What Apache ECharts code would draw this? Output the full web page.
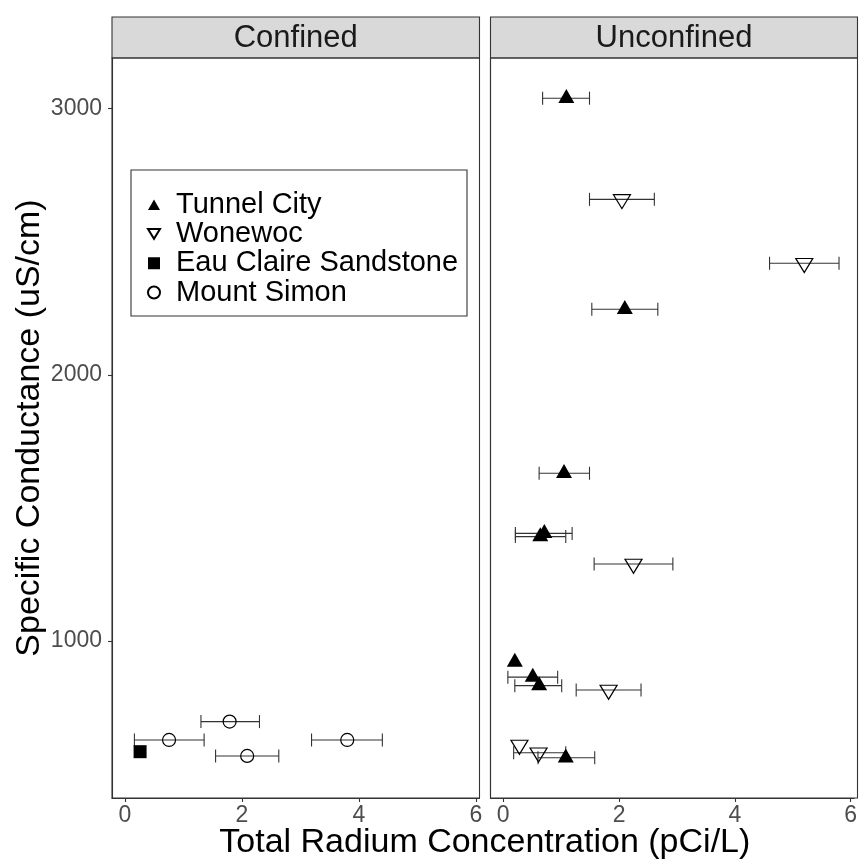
<!DOCTYPE html>
<html>
<head>
<meta charset="utf-8">
<script src="https://cdn.jsdelivr.net/npm/echarts@6/dist/echarts.min.js"></script>
<style>html,body{margin:0;padding:0;background:#fff}#c{width:860px;height:863px}</style>
</head>
<body>
<div id="c"></div>
<script>
// ---------- DATA ----------
const panels = ['Confined', 'Unconfined'];
const xTicks = [0, 2, 4, 6];
const yTicks = [1000, 2000, 3000];

// Confined panel
const msX  = [1.79, 0.755, 3.80, 2.09];
const msY  = [697, 628, 628, 568];
const msLo = [1.30, 0.163, 3.19, 1.55];
const msHi = [2.30, 1.354, 4.40, 2.63];

const ecX = [0.26];
const ecY = [584];

// Unconfined panel
const tcX  = [1.09, 2.10, 1.05, 0.64, 0.71, 0.20, 0.51, 0.62, 1.08];
const tcY  = [3039, 2246, 1630, 1392, 1404, 921, 864, 832, 561];
const tcLo = [0.68, 1.53, 0.62, 0.21, 0.21, null, 0.08, 0.20, 0.60];
const tcHi = [1.49, 2.67, 1.49, 1.08, 1.19, null, 0.94, 1.01, 1.58];

const wwX  = [2.05, 5.20, 2.25, 1.82, 0.28, 0.61];
const wwY  = [2659, 2419, 1289, 816, 609, 580];
const wwLo = [1.49, 4.60, 1.57, 1.26, null, 0.18];
const wwHi = [2.61, 5.80, 2.93, 2.38, null, 1.08];

// ---------- BUILD ----------
const FONT = '"Liberation Sans", Arial, Helvetica, sans-serif';
const pts = (xs, ys) => xs.map((x, i) => [x, ys[i]]);
const bars = (los, his, ys) => los.map((l, i) => [l, his[i], ys[i]]).filter(r => r[0] != null && r[1] != null);

const UP = 'path://M0,14 L8,0 L16,14 Z';
const DOWN = 'path://M0,0 L17,0 L8.5,14 Z';

const gridTop = 58, gridH = 740;
const grids = [
  {left: 112, top: gridTop, width: 367.5, height: gridH},
  {left: 490.5, top: gridTop, width: 367, height: gridH}
];

function errSeries(data, gi) {
  return {
    type: 'custom', xAxisIndex: gi, yAxisIndex: gi, z: 1, silent: true,
    data: data, encode: {x: [0, 1], y: 2},
    renderItem: function (params, api) {
      const a = api.coord([api.value(0), api.value(2)]);
      const b = api.coord([api.value(1), api.value(2)]);
      const h = 6.5;
      const st = {stroke: '#333', lineWidth: 1.1};
      return {type: 'group', children: [
        {type: 'line', shape: {x1: a[0], y1: a[1], x2: b[0], y2: b[1]}, style: st},
        {type: 'line', shape: {x1: a[0], y1: a[1] - h, x2: a[0], y2: a[1] + h}, style: st},
        {type: 'line', shape: {x1: b[0], y1: b[1] - h, x2: b[0], y2: b[1] + h}, style: st}
      ]};
    }
  };
}

const styleTC = {symbol: UP, symbolSize: [16, 14], symbolOffset: [0, -2.3], itemStyle: {color: '#000', opacity: 1}};
const styleWW = {symbol: DOWN, symbolSize: [17, 14], symbolOffset: [0, 2.3], itemStyle: {color: 'rgba(0,0,0,0)', borderColor: '#000', borderWidth: 1.2, opacity: 1}};
const styleEC = {symbol: 'rect', symbolSize: 13, itemStyle: {color: '#000', opacity: 1}};
const styleMS = {symbol: 'circle', symbolSize: 13, itemStyle: {color: 'rgba(0,0,0,0)', borderColor: '#000', borderWidth: 1.2, opacity: 1}};

function sc(name, data, gi, st) {
  return Object.assign({type: 'scatter', name: name, xAxisIndex: gi, yAxisIndex: gi, z: 3, data: data}, st);
}

const series = [
  errSeries(bars(msLo, msHi, msY), 0),
  errSeries(bars(tcLo, tcHi, tcY), 1),
  errSeries(bars(wwLo, wwHi, wwY), 1),
  sc('Tunnel City', pts(tcX, tcY), 1, styleTC),
  sc('Wonewoc', pts(wwX, wwY), 1, styleWW),
  sc('Eau Claire Sandstone', pts(ecX, ecY), 0, styleEC),
  sc('Mount Simon', pts(msX, msY), 0, styleMS)
];

function xAxis(gi) {
  return {
    type: 'value', gridIndex: gi, min: -0.22, max: 6.06, position: 'bottom',
    splitLine: {show: false},
    axisLine: {show: true, onZero: false, lineStyle: {color: '#333', width: 1.1}},
    axisTick: {show: true, inside: false, customValues: xTicks, length: 4, lineStyle: {color: '#333', width: 1.1}},
    axisLabel: {show: true, customValues: xTicks, margin: 6, color: '#4d4d4d', fontSize: 23, fontFamily: FONT,
      formatter: v => String(v)}
  };
}
function yAxis(gi) {
  return {
    type: 'value', gridIndex: gi, min: 410, max: 3190, position: 'left',
    splitLine: {show: false},
    axisLine: {show: true, onZero: false, lineStyle: {color: '#333', width: 1.1}},
    axisTick: {show: gi === 0, inside: false, customValues: yTicks, length: 4, lineStyle: {color: '#333', width: 1.1}},
    axisLabel: {show: gi === 0, customValues: yTicks, margin: 10, color: '#4d4d4d', fontSize: 23, fontFamily: FONT,
      formatter: v => String(v)}
  };
}

const graphics = [];
grids.forEach((g, i) => {
  graphics.push({type: 'rect', z: 0, shape: {x: g.left, y: 17, width: g.width, height: gridTop - 17},
    style: {fill: '#d9d9d9', stroke: '#333', lineWidth: 1.1}});
  graphics.push({type: 'text', z: 1, x: g.left + g.width / 2, y: 38,
    style: {text: panels[i], textAlign: 'center', textVerticalAlign: 'middle', fill: '#1a1a1a', font: '31px ' + FONT}});
  graphics.push({type: 'rect', z: 10, shape: {x: g.left, y: gridTop, width: g.width, height: gridH},
    style: {fill: 'none', stroke: '#333', lineWidth: 1.1}, silent: true});
});
// legend box
graphics.push({type: 'rect', z: 0, shape: {x: 131, y: 170, width: 336, height: 146},
  style: {fill: '#fff', stroke: '#333', lineWidth: 1.1}});
// axis titles
graphics.push({type: 'text', x: 484.8, y: 843,
  style: {text: 'Total Radium Concentration (pCi/L)', textAlign: 'center', textVerticalAlign: 'middle', fill: '#000', font: '34px ' + FONT}});
graphics.push({type: 'text', x: 30, y: 428, rotation: Math.PI / 2,
  style: {text: 'Specific Conductance (uS/cm)', textAlign: 'center', textVerticalAlign: 'middle', fill: '#000', font: '34px ' + FONT}});

const chart = echarts.init(document.getElementById('c'), null, {renderer: 'canvas'});
chart.setOption({
  animation: false,
  backgroundColor: '#fff',
  grid: grids,
  xAxis: [xAxis(0), xAxis(1)],
  yAxis: [yAxis(0), yAxis(1)],
  legend: {
    orient: 'vertical', left: 142, top: 185, itemGap: 0, itemWidth: 12, itemHeight: 12,
    selectedMode: false,
    data: ['Tunnel City', 'Wonewoc', 'Eau Claire Sandstone', 'Mount Simon'],
    textStyle: {fontSize: 29, lineHeight: 29.3, color: '#000', fontFamily: FONT, padding: [0, 0, 0, 11]}
  },
  graphic: graphics,
  series: series
});
</script>
</body>
</html>
